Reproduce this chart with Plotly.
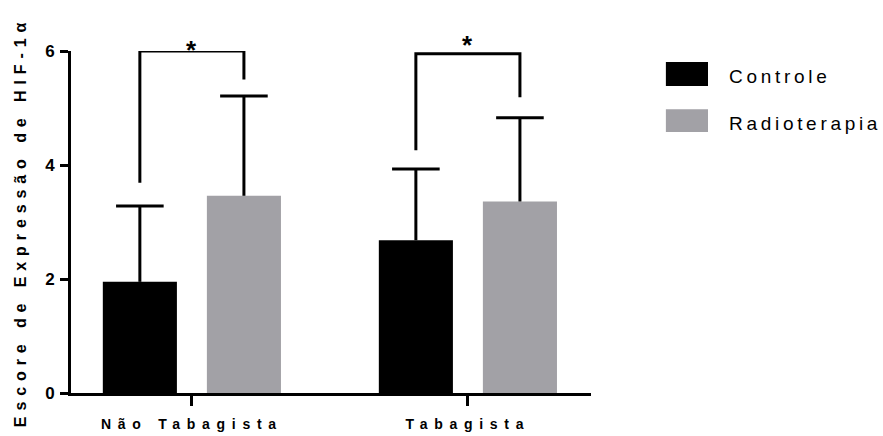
import plotly.graph_objects as go

# Data
categories = ["Não Tabagista", "Tabagista"]
series_names = ["Controle", "Radioterapia"]
controle = [1.95, 2.68]
controle_sd = [1.33, 1.25]
radioterapia = [3.46, 3.36]
radioterapia_sd = [1.75, 1.47]

# Significance brackets (top of bracket, lower end of each leg) and stars
bracket_top = [6.0, 5.95]
bracket_left_end = [3.69, 4.26]
bracket_right_end = [5.50, 5.19]
star_y = [6.10, 6.19]
star_text = ["*", "*"]

y_max = 6
colors = ["#000000", "#a2a1a6"]
FONT = "Arial, 'Liberation Sans', Helvetica, sans-serif"

BARGAP = 0.246
BARGROUPGAP = 0.288
slot = (1 - BARGAP) / 2  # width of one series slot within a group

x_idx = list(range(len(categories)))

fig = go.Figure()
series = [
    (series_names[0], controle, controle_sd, colors[0], -1),
    (series_names[1], radioterapia, radioterapia_sd, colors[1], 1),
]
for name, vals, sds, col, side in series:
    fig.add_trace(go.Bar(
        x=x_idx, y=vals, name=name,
        marker=dict(color=col, line=dict(width=0)),
        showlegend=False,
    ))

# Upper-only error bars (stem + cap) at each bar centre
for name, vals, sds, col, side in series:
    xs, ys = [], []
    cap_x, cap_y = [], []
    for i, (v, s) in enumerate(zip(vals, sds)):
        xc = i + side * slot / 2
        xs += [xc, xc, None]
        ys += [v, v + s, None]
        cap_x.append(xc)
        cap_y.append(v + s)
    fig.add_trace(go.Scatter(
        x=xs, y=ys, mode="lines", line=dict(color="#000000", width=3),
        hoverinfo="skip", showlegend=False, cliponaxis=False,
    ))
    fig.add_trace(go.Scatter(
        x=cap_x, y=cap_y, mode="markers",
        marker=dict(symbol="line-ew", size=34, line=dict(color="#000000", width=3)),
        hoverinfo="skip", showlegend=False, cliponaxis=False,
    ))

shapes = []
annotations = []
for i in x_idx:
    xl = i - slot / 2
    xr = i + slot / 2
    path = (f"M {xl},{bracket_left_end[i]} L {xl},{bracket_top[i]} "
            f"L {xr},{bracket_top[i]} L {xr},{bracket_right_end[i]}")
    shapes.append(dict(type="path", xref="x", yref="y", path=path,
                       line=dict(color="#000000", width=3)))
    annotations.append(dict(x=i, y=star_y[i] / y_max, xref="x", yref="paper",
                            text=star_text[i], showarrow=False,
                            yanchor="middle", yshift=-5,
                            font=dict(family=FONT, size=26, color="#000000", weight="bold")))

# Legend drawn as boxes with labels beside the plot
legend_rows = [(0.968, 0.898), (0.830, 0.763)]
for (y1, y0), name, col in zip(legend_rows, series_names, colors):
    shapes.append(dict(type="rect", xref="paper", yref="paper",
                       x0=1.144, x1=1.225, y0=y0, y1=y1,
                       fillcolor=col, line=dict(width=0)))
    annotations.append(dict(x=1.2615, y=(y0 + y1) / 2, xref="paper", yref="paper",
                            text=name, showarrow=False, xanchor="left", yanchor="middle",
                            align="left", yshift=-3,
                            font=dict(family=FONT, size=19, color="#000000")))

fig.update_layout(
    width=883, height=436,
    margin=dict(l=71, r=292, t=51, b=43, pad=0, autoexpand=False),
    paper_bgcolor="white", plot_bgcolor="white",
    barmode="group", bargap=BARGAP, bargroupgap=BARGROUPGAP,
    shapes=shapes, annotations=annotations,
    showlegend=False,
    xaxis=dict(
        range=[-0.438, 1.446], tickmode="array", tickvals=x_idx, ticktext=categories,
        showline=True, linecolor="#000000", linewidth=3,
        ticks="outside", ticklen=10, tickwidth=3, tickcolor="#000000",
        ticklabelstandoff=6, automargin=False,
        showgrid=False, zeroline=False,
        tickfont=dict(family=FONT, size=14, color="#000000", weight="bold"),
    ),
    yaxis=dict(
        range=[0, y_max], tickmode="array", tickvals=[0, 2, 4, 6],
        showline=True, linecolor="#000000", linewidth=3,
        ticks="outside", ticklen=8, tickwidth=3, tickcolor="#000000",
        ticklabelstandoff=2, automargin=False,
        showgrid=False, zeroline=False,
        tickfont=dict(family=FONT, size=17, color="#000000", weight="bold"),
        title=dict(text="Escore de Expressão de HIF-1α", standoff=15,
                   font=dict(family=FONT, size=16, color="#000000", weight="bold")),
    ),
)

# Wide letter spacing for the axis and legend labels
post = """
var gd = document.getElementById('{plot_id}');
function spaceText() {
  gd.querySelectorAll('.xtick text').forEach(function (t) { t.style.letterSpacing = '6.7px'; });
  gd.querySelectorAll('.ytitle').forEach(function (t) { t.style.letterSpacing = '5.9px'; });
  gd.querySelectorAll('.annotation-text').forEach(function (t) {
    if (t.textContent.length > 1) { t.style.letterSpacing = '3.7px'; }
  });
}
spaceText();
gd.on('plotly_afterplot', spaceText);
"""

fig.write_html("out.html", post_script=post)
